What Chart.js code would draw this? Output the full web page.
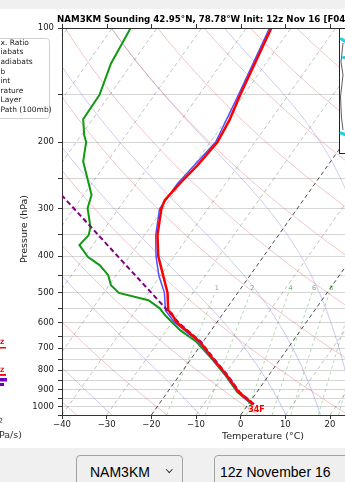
<!DOCTYPE html>
<html>
<head>
<meta charset="utf-8">
<script src="https://cdn.jsdelivr.net/npm/chart.js@4.4.1/dist/chart.umd.min.js"></script>
<style>
    html, body { margin: 0; padding: 0; }
    body {
        width: 345px;
        height: 482px;
        overflow: hidden;
        position: relative;
        background: #f0f0f0;
        font-family: "Liberation Sans", Arial, sans-serif;
    }
    #plotWrap {
        position: absolute;
        left: 0;
        top: 9px;
        width: 345px;
        height: 439px;
        overflow: hidden;
        background: #fff;
    }
    #skewt { display: block; }
    .pick {
        position: absolute;
        top: 455px;
        height: 40px;
        box-sizing: border-box;
        border: 1px solid #a3a3a3;
        border-radius: 4px;
        background: #efefef;
        color: #000;
        font-size: 14px;
        line-height: 14px;
        padding-top: 9px;
        white-space: nowrap;
    }
    #modelPick { left: 76px; width: 107px; padding-left: 13px; }
    #runPick { left: 214px; width: 160px; padding-left: 5px; }
    .chev {
        position: absolute;
        left: 90px;
        top: 11px;
        width: 3.5px;
        height: 3.5px;
        border-right: 1.3px solid #333;
        border-bottom: 1.3px solid #333;
        transform: rotate(45deg);
    }
</style>
</head>
<body>
<div id="plotWrap"><canvas id="skewt" width="472" height="439"></canvas></div>
<div class="pick" id="modelPick">NAM3KM<span class="chev"></span></div>
<div class="pick" id="runPick">12z November 16</div>

<script>
// Sounding (pressure hPa, values °C)
const tempPres = [984, 913, 825, 738, 673, 597, 567, 556, 500, 400, 352, 300, 285, 257, 230, 200, 175, 150, 100];
const tempVals = [1.1, -4.1, -9.4, -15.7, -20.7, -29.1, -31.5, -32.8, -35.7, -43.6, -47.1, -50.4, -51.0, -50.3, -49.2, -48.4, -49.2, -50.8, -54.4];

const wetbulbPres = [984, 913, 825, 738, 673, 597, 556, 500, 450, 400, 352, 300, 257, 200, 150, 100];
const wetbulbVals = [0.9, -4.3, -9.6, -15.9, -21.0, -29.6, -33.4, -36.4, -40.4, -44.1, -47.5, -50.8, -50.8, -48.8, -51.2, -54.8];

const dewpointPres = [984, 913, 825, 738, 673, 627, 573, 550, 523, 500, 477, 449, 423, 402, 374, 352, 335, 299, 276, 225, 200, 192, 174, 150, 124, 100];
const dewpointVals = [0.8, -4.4, -9.7, -16.0, -21.5, -27.0, -32.7, -34.9, -38.8, -46.6, -49.6, -51.8, -55.2, -59.2, -63.0, -62.5, -63.4, -67.0, -68.2, -75.4, -77.8, -79.3, -82.1, -82.3, -84.7, -85.9];

const parcelPres = [984, 913, 825, 738, 673, 601, 567, 500, 408, 340, 277, 237];
const parcelVals = [1.3, -3.9, -9.2, -15.5, -20.5, -28.3, -31.8, -39.3, -51.5, -62.4, -74.7, -84.1];

// axis ticks
const tempTicks = [-40, -30, -20, -10, 0, 10, 20, 30, 40, 50];
const isobars = [100, 150, 200, 250, 300, 350, 400, 450, 500, 550, 600, 650, 700, 750, 800, 850, 900, 950, 1000, 1050];
const pressureLabels = [100, 200, 300, 400, 500, 600, 700, 800, 900, 1000];

// background line families
const isotherms = [-120, -110, -100, -90, -80, -70, -60, -50, -40, -30, -20, -10, 0, 10, 20, 30, 40, 50];
const darkIsotherms = [-20, 0];
const dryThetas = [-40, -20, 0, 20, 40, 60, 80, 100, 120, 140, 160, 180, 200, 220, 240, 260];
const moistStarts = [-32, -12, 8, 16, 24, 32, 40];
const mixRatios = [1, 2, 4, 6, 8, 12, 16, 20];

const SKEW = 60;          // °C shift per decade of pressure
const P_BOTTOM = 1050;
const P_TOP = 100;
const MIX_TOP = 500;

function skewX(t, p) {
    return t + SKEW * Math.log10(P_BOTTOM / p);
}

function profile(pres, vals) {
    return pres.map((p, i) => ({ x: skewX(vals[i], p), y: p }));
}

const levels = [];
for (let p = P_BOTTOM; p >= P_TOP; p -= 10) levels.push(p);

function dryAdiabat(thetaC) {
    return levels.map(p => ({
        x: skewX((thetaC + 273.15) * Math.pow(p / 1000, 0.2857) - 273.15, p),
        y: p
    }));
}

function satMix(tc, p) {
    const es = 6.112 * Math.exp(17.67 * tc / (tc + 243.5));
    return 0.622 * es / (p - es);
}

function moistLapse(tc, p) {
    const tk = tc + 273.15;
    const rs = satMix(tc, p);
    const Lv = 2.501e6, Rd = 287.04, Cp = 1005.7;
    return (Rd * tk + Lv * rs) / (p * (Cp + Lv * Lv * rs * 0.622 / (Rd * tk * tk)));
}

function stepMoist(t, p, dp) {
    const k1 = moistLapse(t, p);
    const k2 = moistLapse(t + k1 * dp, p + dp);
    return t + 0.5 * (k1 + k2) * dp;
}

function moistAdiabat(t1000) {
    const below = [];
    let t = t1000, p = 1000;
    while (p < P_BOTTOM) {
        t = stepMoist(t, p, 5);
        p += 5;
        below.push({ x: skewX(t, p), y: p });
    }
    below.reverse();
    const above = [{ x: skewX(t1000, 1000), y: 1000 }];
    t = t1000; p = 1000;
    while (p > P_TOP) {
        t = stepMoist(t, p, -5);
        p -= 5;
        above.push({ x: skewX(t, p), y: p });
    }
    return below.concat(above);
}

function mixTemp(w, p) {
    const e = (w / 1000) * p / (0.622 + w / 1000);
    const l = Math.log(e / 6.112);
    return 243.5 * l / (17.67 - l);
}

function mixLine(w) {
    const pts = [];
    for (let p = P_BOTTOM; p >= MIX_TOP; p -= 25) {
        pts.push({ x: skewX(mixTemp(w, p), p), y: p });
    }
    return pts;
}

function lineSet(label, data, color, width, dash, order) {
    return {
        label: label,
        data: data,
        showLine: true,
        borderColor: color,
        backgroundColor: color,
        borderWidth: width,
        borderDash: dash || [],
        pointRadius: 0,
        fill: false,
        tension: 0,
        order: order,
        clip: 0
    };
}

const datasets = [
    lineSet('Temperature', profile(tempPres, tempVals), '#ff0000', 2.5, null, 0),
    lineSet('Parcel Path (100mb)', profile(parcelPres, parcelVals), '#800080', 2, [5, 3], 1),
    lineSet('Wetbulb', profile(wetbulbPres, wetbulbVals), '#5050ff', 1.5, null, 2),
    lineSet('Dewpoint', profile(dewpointPres, dewpointVals), '#119911', 2, null, 3)
];

isotherms.forEach(t => {
    const dark = darkIsotherms.includes(t);
    datasets.push(lineSet('iso' + t,
        [{ x: skewX(t, P_BOTTOM), y: P_BOTTOM }, { x: skewX(t, P_TOP), y: P_TOP }],
        dark ? 'rgba(0,0,0,0.7)' : 'rgba(0,0,0,0.3)', dark ? 1 : 0.8, [4, 3], dark ? 11 : 14));
});
dryThetas.forEach(th => {
    datasets.push(lineSet('dry' + th, dryAdiabat(th), 'rgba(210,70,70,0.38)', 0.8, null, 13));
});
moistStarts.forEach(t => {
    datasets.push(lineSet('moist' + t, moistAdiabat(t), 'rgba(90,90,220,0.38)', 0.8, null, 13));
});
mixRatios.forEach(w => {
    datasets.push(lineSet('mix' + w, mixLine(w), 'rgba(40,150,40,0.45)', 0.8, [3, 3], 12));
});

const TOP_OFFSET = 9; // canvas starts 9px below the page top

const decor = {
    id: 'decor',
    afterDraw(chart) {
        const { ctx, chartArea: a, scales } = chart;
        const xs = scales.x, ys = scales.y;
        ctx.save();

        // top spine with outward ticks
        ctx.strokeStyle = '#333';
        ctx.lineWidth = 1;
        ctx.beginPath();
        ctx.moveTo(a.left, a.top + 0.5);
        ctx.lineTo(a.right, a.top + 0.5);
        tempTicks.forEach(t => {
            const px = Math.round(xs.getPixelForValue(t)) + 0.5;
            ctx.moveTo(px, a.top);
            ctx.lineTo(px, a.top - 4);
        });
        ctx.stroke();

        // mixing ratio labels
        ctx.fillStyle = 'rgba(40,150,40,0.7)';
        ctx.font = '6.5px "DejaVu Sans"';
        ctx.textAlign = 'center';
        ctx.textBaseline = 'bottom';
        mixRatios.forEach(w => {
            const px = xs.getPixelForValue(skewX(mixTemp(w, MIX_TOP), MIX_TOP));
            ctx.fillText(String(w), px + 2, ys.getPixelForValue(MIX_TOP) - 1);
        });

        // surface temperature in °F
        const sfcF = Math.round(tempVals[0] * 9 / 5 + 32);
        const sx = xs.getPixelForValue(skewX(tempVals[0], tempPres[0]));
        const sy = ys.getPixelForValue(tempPres[0]);
        ctx.fillStyle = '#ff0000';
        ctx.font = 'bold 8px "DejaVu Sans"';
        ctx.textAlign = 'left';
        ctx.textBaseline = 'middle';
        ctx.fillText(sfcF + 'F', sx - 5, sy + 6);

        // title
        ctx.fillStyle = '#000';
        ctx.font = 'bold 8.7px "DejaVu Sans"';
        ctx.textAlign = 'left';
        ctx.textBaseline = 'alphabetic';
        ctx.fillText('NAM3KM Sounding 42.95°N, 78.78°W Init: 12z Nov 16 [F04', 57, 21.5 - TOP_OFFSET);

        // axis titles
        ctx.fillStyle = '#222';
        ctx.font = '9.5px "DejaVu Sans"';
        ctx.textAlign = 'center';
        ctx.textBaseline = 'middle';
        ctx.fillText('Temperature (°C)', (a.left + a.right) / 2, 437 - TOP_OFFSET);
        ctx.save();
        ctx.translate(25, 229 - TOP_OFFSET);
        ctx.rotate(-Math.PI / 2);
        ctx.fillText('Pressure (hPa)', 0, 0);
        ctx.restore();

        // clipped legend of the neighbouring panel
        ctx.fillStyle = '#fff';
        ctx.strokeStyle = '#cfcfcf';
        ctx.beginPath();
        ctx.roundRect(-20.5, 38.5 - TOP_OFFSET, 70, 80, 3);
        ctx.fill();
        ctx.stroke();
        const legendBits = ['x. Ratio', 'iabats', 'adiabats', 'b', 'int', 'rature', 'Layer', 'Path (100mb)'];
        ctx.fillStyle = '#222';
        ctx.font = '7.5px "DejaVu Sans"';
        ctx.textAlign = 'left';
        ctx.textBaseline = 'middle';
        legendBits.forEach((s, i) => ctx.fillText(s, 0.5, 42.8 - TOP_OFFSET + i * 9.6));

        // clipped bits of the omega panel on the left
        ctx.fillStyle = '#ff0000';
        ctx.font = 'bold 6px "DejaVu Sans"';
        ctx.fillText('Z', 0, 342.5 - TOP_OFFSET);
        ctx.fillText('Z', 0, 370 - TOP_OFFSET);
        ctx.fillRect(0, 347 - TOP_OFFSET, 6, 1.5);
        ctx.fillRect(0, 374 - TOP_OFFSET, 6, 1);
        ctx.fillStyle = '#5050ff';
        ctx.fillRect(0, 375 - TOP_OFFSET, 6, 1);
        ctx.fillStyle = '#7000c0';
        ctx.fillRect(0, 378 - TOP_OFFSET, 7, 3.5);
        ctx.fillRect(0, 383 - TOP_OFFSET, 4, 3);
        ctx.fillStyle = '#333';
        ctx.font = '7px "DejaVu Sans"';
        ctx.fillText('2', -1.5, 421.5 - TOP_OFFSET);
        ctx.font = '9.5px "DejaVu Sans"';
        ctx.fillText('Pa/s)', -1, 436 - TOP_OFFSET);

        // inset panel at the top right (clipped by the page)
        const boxTop = a.top + 0.5;
        const boxBottom = 153.5 - TOP_OFFSET;
        ctx.fillStyle = '#fff';
        ctx.fillRect(339.5, boxTop, 140, boxBottom - boxTop);
        ctx.strokeStyle = '#222';
        ctx.lineWidth = 1;
        ctx.strokeRect(339.5, boxTop, 140, boxBottom - boxTop);
        ctx.strokeStyle = '#333';
        ctx.lineWidth = 0.8;
        ctx.beginPath();
        ctx.moveTo(343, 43 - TOP_OFFSET);
        ctx.lineTo(341, 62 - TOP_OFFSET);
        ctx.lineTo(343, 75 - TOP_OFFSET);
        ctx.lineTo(340.5, 97 - TOP_OFFSET);
        ctx.lineTo(341.5, 118 - TOP_OFFSET);
        ctx.lineTo(343, 130 - TOP_OFFSET);
        ctx.stroke();
        ctx.strokeStyle = '#19d3e6';
        ctx.lineCap = 'round';
        ctx.lineWidth = 3;
        ctx.beginPath();
        ctx.moveTo(341.5, 39 - TOP_OFFSET);
        ctx.lineTo(346, 42 - TOP_OFFSET);
        ctx.moveTo(343.5, 57.5 - TOP_OFFSET);
        ctx.lineTo(346, 57.5 - TOP_OFFSET);
        ctx.moveTo(341, 133 - TOP_OFFSET);
        ctx.lineTo(346, 135 - TOP_OFFSET);
        ctx.stroke();

        ctx.restore();
    }
};

const minus = v => String(v).replace('-', '\u2212');

new Chart(document.getElementById('skewt'), {
    type: 'scatter',
    data: { datasets: datasets },
    options: {
        responsive: false,
        animation: false,
        devicePixelRatio: 1,
        layout: { padding: { top: 19, right: 8, left: 0, bottom: 0 } },
        plugins: {
            legend: { display: false },
            tooltip: { enabled: false },
            title: { display: false }
        },
        scales: {
            x: {
                type: 'linear',
                min: -40,
                max: 50,
                afterFit: s => { s.height = 33; },
                afterBuildTicks: s => { s.ticks = tempTicks.map(v => ({ value: v })); },
                border: { color: '#333', width: 1 },
                grid: { drawOnChartArea: false, tickLength: 4, tickColor: '#333' },
                ticks: {
                    autoSkip: false,
                    maxRotation: 0,
                    padding: 1,
                    color: '#222',
                    font: { family: 'DejaVu Sans', size: 8.5 },
                    callback: v => minus(v)
                }
            },
            y: {
                type: 'logarithmic',
                reverse: true,
                min: P_TOP,
                max: P_BOTTOM,
                afterFit: s => { s.width = 62; },
                afterBuildTicks: s => { s.ticks = isobars.map(v => ({ value: v })); },
                border: { color: '#333', width: 1 },
                grid: { color: '#d6d6d6', lineWidth: 1, tickLength: 4, tickColor: '#333' },
                ticks: {
                    autoSkip: false,
                    padding: 4,
                    color: '#222',
                    font: { family: 'DejaVu Sans', size: 8.5 },
                    callback: v => pressureLabels.includes(v) ? String(v) : ''
                }
            }
        }
    },
    plugins: [decor]
});
</script>
</body>
</html>
